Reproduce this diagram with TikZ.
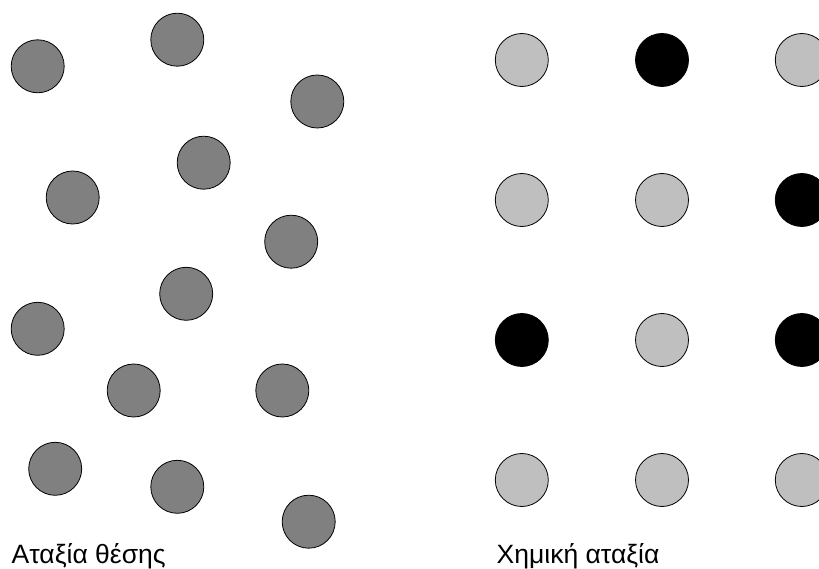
\documentclass[tikz,border=0pt]{standalone}
\usepackage{fontspec}
\setmainfont{Liberation Sans}
\tikzset{
  atom/.style={circle,draw=black,line width=0.8pt,minimum size=53pt,inner sep=0pt},
  darkatom/.style={atom,fill=black!50},
  lightatom/.style={atom,fill=black!25},
  blackatom/.style={atom,fill=black},
  caption/.style={anchor=base west,inner sep=0pt,font=\fontsize{26.5}{30}\selectfont}
}
\begin{document}
\begin{tikzpicture}[x=1pt,y=-1pt]
    \useasboundingbox (0,0) rectangle (819,569);
    % disorder of position
    \node[darkatom] (p1) at (37.7,66.3) {};
    \node[darkatom] (p2) at (177.3,39.7) {};
    \node[darkatom] (p3) at (317.3,101.5) {};
    \node[darkatom] (p4) at (203.7,162.7) {};
    \node[darkatom] (p5) at (72.7,197.5) {};
    \node[darkatom] (p6) at (291.2,241.7) {};
    \node[darkatom] (p7) at (186.2,293.8) {};
    \node[darkatom] (p8) at (37.7,328.8) {};
    \node[darkatom] (p9) at (133.7,390.5) {};
    \node[darkatom] (p10) at (282.3,390.5) {};
    \node[darkatom] (p11) at (55.2,468.8) {};
    \node[darkatom] (p12) at (177.3,486.8) {};
    \node[darkatom] (p13) at (308.7,521.7) {};
    \node[caption] (posl) at (11.5,563.3) {Αταξία θέσης};
    % chemical disorder
    \node[lightatom] (c11) at (521.8,60) {};
    \node[blackatom] (c12) at (662,60) {};
    \node[lightatom] (c13) at (801.8,60) {};
    \node[lightatom] (c21) at (521.8,200) {};
    \node[lightatom] (c22) at (662,200) {};
    \node[blackatom] (c23) at (801.8,200) {};
    \node[blackatom] (c31) at (521.8,340) {};
    \node[lightatom] (c32) at (662,340) {};
    \node[blackatom] (c33) at (801.8,340) {};
    \node[lightatom] (c41) at (521.8,480) {};
    \node[lightatom] (c42) at (662,480) {};
    \node[lightatom] (c43) at (801.8,480) {};
    \node[caption] (chem) at (496.5,563.3) {Χημική αταξία};
\end{tikzpicture}
\end{document}
